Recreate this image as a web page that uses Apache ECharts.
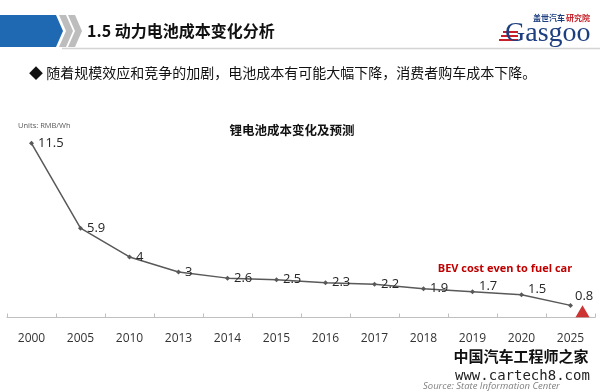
<!DOCTYPE html>
<html>
<head>
<meta charset="utf-8">
<script src="https://cdn.jsdelivr.net/npm/echarts@6/dist/echarts.min.js"></script>
<style>
html,body{margin:0;padding:0;background:#fff;}
#main{width:600px;height:392px;}
</style>
</head>
<body>
<div id="main"></div>
<script>
var categories = ['2000','2005','2010','2013','2014','2015','2016','2017','2018','2019','2020','2025'];
var costValues = [11.5, 5.9, 4, 3, 2.6, 2.5, 2.3, 2.2, 1.9, 1.7, 1.5, 0.8];
var markerCategory = ['2025'];
var markerValue = [0.42];

var chart = echarts.init(document.getElementById('main'), null, {renderer: 'canvas'});

var lineData = costValues.map(function (v, i) {
  var item = {value: v};
  if (i === costValues.length - 1) {
    item.label = {position: 'right', offset: [-2, -9]};
  } else if (i === 9 || i === 10) {
    item.label = {position: 'right', offset: [0, -5]};
  }
  return item;
});

var cjk = '"Noto Sans CJK SC", sans-serif';

var option = {
  backgroundColor: '#ffffff',
  animation: false,
  title: {
    text: '锂电池成本变化及预测',
    left: 287, top: 119, textAlign: 'center',
    textStyle: {fontFamily: cjk, fontSize: 12.5, fontWeight: 'bold', color: '#111'}
  },
  grid: {left: 7, right: 5, top: 105.5, bottom: 74.5},
  xAxis: {
    type: 'category',
    data: categories,
    boundaryGap: true,
    axisLine: {lineStyle: {color: '#bfbfbf', width: 1}},
    axisTick: {show: true, inside: true, length: 4, lineStyle: {color: '#bfbfbf'}},
    axisLabel: {fontFamily: '"Open Sans", sans-serif', fontSize: 12, color: '#333', margin: 15}
  },
  yAxis: {
    type: 'value', min: 0, max: 14, show: false,
    splitLine: {show: false}
  },
  series: [
    {
      type: 'line',
      data: lineData,
      symbol: 'diamond',
      symbolSize: 5,
      lineStyle: {color: '#595959', width: 1.5},
      itemStyle: {color: '#595959'},
      label: {
        show: true, position: 'right', distance: 4,
        fontFamily: '"Open Sans", sans-serif', fontSize: 13, color: '#262626'
      },
      z: 3
    },
    {
      type: 'scatter',
      data: markerCategory.map(function (c, i) { return [c, markerValue[i]]; }),
      symbol: 'triangle',
      symbolSize: [14, 12],
      symbolOffset: [12, 0],
      itemStyle: {color: '#c00000'},
      z: 4
    }
  ],
  graphic: [
    {type: 'polygon', shape: {points: [[0,15],[56,15],[63,31],[56,47],[0,47]]}, style: {fill: '#1f69b3'}},
    {type: 'polygon', shape: {points: [[59,15],[66,15],[73,31],[66,47],[59,47],[66,31]]}, style: {fill: '#bdbdbd'}},
    {type: 'polygon', shape: {points: [[68,15],[75,15],[82,31],[75,47],[68,47],[75,31]]}, style: {fill: '#bdbdbd'}},
    {type: 'line', shape: {x1: 62, y1: 48.5, x2: 600, y2: 48.5}, style: {stroke: '#d3d3d3', lineWidth: 1.5}},
    {type: 'text', x: 87, y: 31, style: {text: '1.5 动力电池成本变化分析', fontFamily: cjk, fontSize: 16, fontWeight: 'bold', fill: '#111', verticalAlign: 'middle'}},
    {type: 'text', x: 533, y: 18, style: {text: '盖世汽车', fontFamily: cjk, fontSize: 8, fontWeight: 'bold', fill: '#1d3f7f', verticalAlign: 'middle'}},
    {type: 'text', x: 566, y: 18, style: {text: '研究院', fontFamily: cjk, fontSize: 8, fontWeight: 'bold', fill: '#c8202a', verticalAlign: 'middle'}},
    {type: 'rect', shape: {x: 503, y: 31, width: 15, height: 2}, style: {fill: '#c8202a'}},
    {type: 'rect', shape: {x: 501, y: 35, width: 17, height: 2}, style: {fill: '#c8202a'}},
    {type: 'rect', shape: {x: 499, y: 39, width: 19, height: 2}, style: {fill: '#c8202a'}},
    {type: 'text', x: 505, y: 34, style: {text: 'Gasgoo', fontFamily: '"Liberation Serif", serif', fontSize: 28, fill: '#1d3f7f', verticalAlign: 'middle'}},
    {type: 'text', x: 29, y: 73, style: {text: '◆ 随着规模效应和竞争的加剧，电池成本有可能大幅下降，消费者购车成本下降。', fontFamily: cjk, fontSize: 14, fill: '#111', verticalAlign: 'middle'}},
    {type: 'text', x: 18, y: 126, style: {text: 'Units: RMB/Wh', fontFamily: '"Open Sans", sans-serif', fontSize: 7.5, fill: '#595959', verticalAlign: 'middle'}},
    {type: 'text', x: 505, y: 269, style: {text: 'BEV cost even to fuel car', fontFamily: '"Open Sans", sans-serif', fontSize: 11, fontWeight: 'bold', fill: '#c00000', align: 'center', verticalAlign: 'middle'}},
    {type: 'text', x: 521, y: 356, style: {text: '中国汽车工程师之家', fontFamily: cjk, fontSize: 15, fontWeight: 'bold', fill: '#111', align: 'center', verticalAlign: 'middle'}},
    {type: 'text', x: 455, y: 376, style: {text: 'www.cartech8.com', fontFamily: '"DejaVu Sans Mono", monospace', fontSize: 14, fill: '#222', verticalAlign: 'middle'}},
    {type: 'text', x: 423, y: 386, style: {text: 'Source: State Information Center', fontFamily: '"Open Sans", sans-serif', fontSize: 9.5, fontStyle: 'italic', fill: '#7f7f7f', verticalAlign: 'middle'}}
  ]
};
chart.setOption(option);
</script>
</body>
</html>
